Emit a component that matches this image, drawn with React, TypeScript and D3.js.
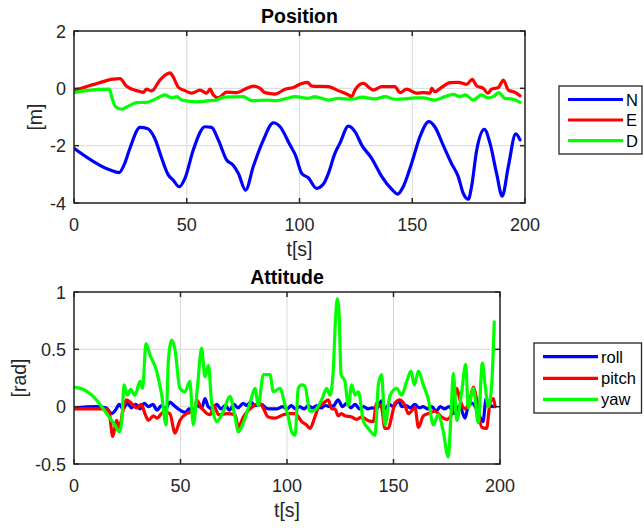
import React from "react";
import * as d3 from "d3";

type P = [number, number];

const posN: P[] = [[0,-2.09],[16,-2.85],[20,-2.94],[22.5,-2.62],[24.8,-2.09],[29.3,-1.36],[32.5,-1.4],[35.8,-1.74],[38.9,-2.44],[41.8,-3.02],[44,-3.2],[46.7,-3.43],[49.2,-3.14],[52.9,-2.15],[58.1,-1.34],[61,-1.36],[64,-1.8],[67.7,-2.5],[70.6,-2.68],[72.9,-2.97],[76.1,-3.55],[79.5,-2.73],[84,-1.8],[88.4,-1.2],[91.4,-1.34],[95.8,-1.98],[98.2,-2.33],[101,-2.97],[103.9,-3.12],[107.6,-3.49],[110.6,-3.34],[112.8,-2.97],[115.7,-2.27],[117.9,-1.92],[121.7,-1.32],[124.6,-1.51],[127.6,-1.98],[132,-2.44],[136.5,-3.08],[140.9,-3.52],[143.6,-3.69],[146,-3.43],[149.7,-2.62],[153.4,-1.69],[157.4,-1.16],[160,-1.34],[163.7,-1.98],[167.4,-2.62],[170.4,-3.08],[172.6,-3.66],[174.9,-3.87],[176.3,-3.43],[178.6,-2.15],[182,-1.43],[184.5,-1.92],[187.4,-2.97],[189.9,-3.76],[192.6,-2.73],[195.9,-1.59],[197.8,-1.8]];

const posE: P[] = [[0,-0.08],[5.6,0.06],[11.5,0.2],[17.4,0.32],[20.4,0.34],[23.2,0.08],[27.8,-0.08],[30.7,-0.14],[32.2,-0.03],[34.4,-0.09],[38.1,0.29],[42.6,0.54],[44,0.4],[46.3,0.03],[49.2,-0.08],[52.2,-0.17],[55.9,-0.06],[58.8,-0.17],[60.3,-0.03],[61.8,-0.23],[64,-0.33],[67.7,-0.13],[72.2,-0.15],[76.6,0],[79.5,0.08],[82.5,0],[84.7,-0.15],[89.1,-0.2],[93.6,-0.03],[97.3,0.03],[101,0.17],[103.6,0.21],[105.4,0.08],[112.8,0.06],[117.2,-0.08],[121.7,-0.23],[123.1,-0.29],[124.6,-0.06],[128.3,0.17],[131.3,0],[132.7,-0.06],[136.5,0.06],[142.3,0.06],[144.6,-0.15],[147.5,-0.03],[151.9,-0.17],[154.9,-0.15],[157.9,-0.17],[158.6,0],[160,-0.12],[163,0.03],[166.7,0.2],[170.4,0.21],[174.1,0.14],[176.6,0.31],[178.6,0.08],[181.5,0],[183.5,-0.17],[185.2,-0.03],[188.2,0.03],[190.4,0.29],[192.6,-0.06],[195.6,-0.14],[197.8,-0.26]];

const posD: P[] = [[0,-0.15],[5.6,-0.08],[15.7,-0.03],[16.7,-0.29],[18.2,-0.62],[21.1,-0.73],[24.1,-0.62],[27.8,-0.5],[32.2,-0.49],[36.7,-0.35],[40.4,-0.23],[43.3,-0.33],[45.6,-0.29],[47.8,-0.41],[54.4,-0.47],[58.8,-0.44],[63.3,-0.41],[66.2,-0.31],[75.1,-0.29],[78.8,-0.43],[85.4,-0.41],[89.9,-0.43],[94.3,-0.35],[98.2,-0.29],[103.9,-0.35],[106.8,-0.29],[112.8,-0.41],[117.2,-0.35],[123.1,-0.38],[127.6,-0.31],[133.5,-0.37],[137.9,-0.29],[142.3,-0.38],[146.8,-0.37],[151.2,-0.33],[154.9,-0.33],[160,-0.41],[164.5,-0.29],[168.2,-0.21],[171.1,-0.29],[173.7,-0.23],[177,-0.41],[180.7,-0.23],[183.7,-0.33],[185.9,-0.29],[188.4,-0.15],[191.1,-0.35],[194,-0.37],[197.8,-0.49]];

const attRoll: P[] = [[0,-0.01],[10,0],[15,-0.01],[17.8,-0.06],[19.5,-0.03],[21.3,0.02],[23,-0.02],[25,0.03],[27,-0.01],[29,0.02],[31,-0.02],[33,0.03],[35,0],[37,0.02],[39,-0.03],[41,0.01],[43,-0.02],[45,0.04],[47,0.01],[49,-0.02],[52.3,-0.05],[54,-0.02],[56,-0.03],[58,0.01],[60,-0.01],[61.5,0.07],[63,0],[65,-0.02],[67,0.02],[69,-0.02],[71,0.01],[73,-0.03],[75,0.02],[77,-0.01],[79.5,0.03],[81,0.01],[83,0.04],[85,0.01],[88,0.02],[90,-0.01],[92,-0.02],[95,-0.02],[98,0],[100,-0.02],[102,0.01],[104,-0.02],[106,0],[108,-0.02],[110,0.01],[112,-0.01],[114,0.01],[116,-0.01],[118,0.01],[120,0],[122,0.01],[124,0.06],[126,0],[128,0.03],[130,-0.01],[132,0.02],[134,-0.02],[136,0],[138,-0.02],[140,-0.01],[142,-0.02],[144.4,0.05],[146,-0.02],[148,0.02],[150,0],[152.3,0.05],[154,0],[156,0.01],[158,-0.01],[160,0.02],[162,-0.01],[164,0],[166,-0.02],[168,0],[170,-0.04],[172,0],[174,-0.02],[176,0],[178.9,-0.06],[181,0.01],[183.6,-0.1],[185,0],[187,0.03],[189,-0.02],[192,-0.13],[193.5,0.07],[195,0.01],[197,0]];

const attPitch: P[] = [[0,-0.02],[15,-0.02],[16.5,-0.05],[18.2,-0.26],[20,-0.12],[21.3,-0.19],[22.8,-0.05],[24.7,0.06],[26.9,0.03],[29.4,-0.01],[31.6,0.02],[33.3,-0.06],[34.9,-0.12],[37.3,-0.08],[38.9,-0.1],[41.9,-0.05],[45,-0.06],[47.4,-0.23],[49.7,-0.12],[52.8,-0.06],[56.7,-0.04],[57.6,0.06],[59.5,0],[62.5,-0.06],[64,-0.07],[65.6,0.01],[67.9,-0.07],[71.8,-0.06],[75.6,-0.07],[77.2,-0.18],[79.5,-0.09],[82.6,-0.02],[87.3,0.03],[88.8,-0.01],[91.2,-0.09],[94.3,-0.1],[98.2,-0.07],[101.3,-0.06],[103.8,-0.06],[106.9,-0.13],[109.2,-0.16],[110.8,-0.19],[113.1,-0.09],[114.7,-0.01],[117.1,0.03],[119.4,0.06],[121,-0.02],[122.5,-0.02],[124.1,-0.08],[125.6,-0.06],[127.2,-0.08],[130.4,-0.09],[132.7,-0.11],[135.1,-0.09],[138,-0.12],[140.5,-0.13],[142.1,0.03],[144.4,-0.01],[146,-0.19],[147.6,-0.19],[149.1,-0.09],[150.7,0.03],[153,0.06],[155.4,0.01],[157,-0.06],[160.1,-0.01],[161.7,-0.18],[164,-0.08],[166.4,-0.06],[169.5,-0.04],[172.6,-0.09],[175,-0.11],[177.3,-0.07],[179.7,0.16],[181.2,0.06],[183.6,-0.02],[186,0.07],[187.5,0.17],[189,0.07],[191.4,-0.18],[193.7,-0.19],[195.3,0.03],[196.9,0.07],[197.7,0]];

const attYaw: P[] = [[0,0.17],[4.4,0.15],[9,0.09],[13,0],[16.1,-0.08],[19.2,-0.16],[21.3,-0.22],[22.4,-0.13],[23.5,0.19],[25,0.1],[26.6,0.15],[28.6,0.1],[31,0.22],[32.2,0.16],[33.8,0.55],[35.7,0.45],[38.8,0.31],[41.2,0.1],[43.2,-0.16],[44.3,0.4],[45.9,0.58],[47.4,0.5],[49.7,0.16],[52.1,0.13],[54.4,0.22],[56,-0.16],[57.9,0.16],[59.9,0.51],[61.5,0.26],[63.1,0.36],[64.6,0.04],[67,-0.13],[70.1,-0.04],[73.2,0.09],[75.6,-0.09],[77.2,-0.22],[79.5,-0.14],[82.6,0.03],[85,0.16],[86.5,0.01],[88.9,0.28],[92,0.28],[93.6,0.13],[96.7,0.16],[99,0.02],[100.6,-0.09],[102.2,-0.22],[103.8,-0.25],[105.3,0.16],[106.9,0.19],[108.4,0.18],[110.8,-0.04],[113.1,-0.03],[116.3,0.06],[118.6,0.16],[120.2,0.1],[121.7,0.31],[122.8,0.77],[123.6,0.94],[124.4,0.83],[125.4,0.28],[127.2,0.22],[128.8,0.01],[130.4,0.19],[131.9,0.1],[133.5,0.13],[135.9,-0.13],[138.2,-0.19],[141.3,-0.25],[142.9,0.19],[144.4,0.28],[146,-0.16],[148.4,0.1],[151.5,0.16],[153.8,0.1],[156.2,0.22],[158.2,0.31],[159.8,0.19],[161.7,0.31],[164,0.19],[166.4,0.06],[168.7,-0.16],[171,-0.07],[173.4,-0.22],[175.7,-0.44],[177,-0.07],[178.1,0.29],[179.7,-0.12],[182,0.13],[183.9,0.37],[185.1,-0.01],[187.5,0.16],[189.8,-0.14],[191.7,0.38],[193,0.19],[194.5,0],[196.1,0.19],[197.3,0.74]];

const posNames = ["N", "E", "D"];
const attNames = ["roll", "pitch", "yaw"];
const colors = ["#0000ff", "#ff0000", "#00ff00"];
const xTicks = [0, 50, 100, 150, 200];
const posYTicks = [-4, -2, 0, 2];
const attYTicks = [-0.5, 0, 0.5, 1];

const FONT = "'Liberation Sans', Arial, Helvetica, sans-serif";
const AX = "#262626";

interface PanelProps {
  left: number; right: number; top: number; bottom: number;
  yDomain: [number, number]; yTicks: number[]; yFmt: (v: number) => string;
  series: P[][]; names: string[]; title: string; ylabel: string; ylabelX: number;
  legend: { x: number; y: number; w: number; h: number; lineX0: number; lineX1: number; textX: number; rows: number[] };
}

function Panel(p: PanelProps) {
  const x = d3.scaleLinear().domain([0, 200]).range([p.left, p.right]);
  const y = d3.scaleLinear().domain(p.yDomain).range([p.bottom, p.top]);
  const line = d3.line<P>().x(d => x(d[0])).y(d => y(d[1])).curve(d3.curveMonotoneX);
  const tl = 5;
  const cx = (p.left + p.right) / 2;
  const cy = (p.top + p.bottom) / 2;
  return (
    <g>
      <rect x={p.left} y={p.top} width={p.right - p.left} height={p.bottom - p.top} fill="#fff" />
      {xTicks.map(t => (
        <line key={"gx" + t} x1={x(t)} x2={x(t)} y1={p.top} y2={p.bottom} stroke="#d9d9d9" strokeWidth={1} />
      ))}
      {p.yTicks.map(t => (
        <line key={"gy" + t} x1={p.left} x2={p.right} y1={y(t)} y2={y(t)} stroke="#d9d9d9" strokeWidth={1} />
      ))}
      <defs>
        <clipPath id={"clip" + p.title}>
          <rect x={p.left} y={p.top - 2} width={p.right - p.left} height={p.bottom - p.top + 4} />
        </clipPath>
      </defs>
      <g clipPath={`url(#clip${p.title})`}>
        {p.series.map((s, i) => (
          <path key={i} d={line(s) || ""} fill="none" stroke={colors[i]} strokeWidth={3.2} strokeLinejoin="round" strokeLinecap="round" />
        ))}
      </g>
      <rect x={p.left} y={p.top} width={p.right - p.left} height={p.bottom - p.top} fill="none" stroke={AX} strokeWidth={1.5} />
      {xTicks.map(t => (
        <g key={"tx" + t}>
          <line x1={x(t)} x2={x(t)} y1={p.bottom} y2={p.bottom - tl} stroke={AX} strokeWidth={1.5} />
          <line x1={x(t)} x2={x(t)} y1={p.top} y2={p.top + tl} stroke={AX} strokeWidth={1.5} />
          <text x={x(t)} y={p.bottom + 28} textAnchor="middle" fontSize={18} fill={AX} fontFamily={FONT}>{t}</text>
        </g>
      ))}
      {p.yTicks.map(t => (
        <g key={"ty" + t}>
          <line x1={p.left} x2={p.left + tl} y1={y(t)} y2={y(t)} stroke={AX} strokeWidth={1.5} />
          <line x1={p.right} x2={p.right - tl} y1={y(t)} y2={y(t)} stroke={AX} strokeWidth={1.5} />
          <text x={p.left - 8} y={y(t) + 6.5} textAnchor="end" fontSize={18} fill={AX} fontFamily={FONT}>{p.yFmt(t)}</text>
        </g>
      ))}
      <text x={cx} y={p.top - 8.5} textAnchor="middle" fontSize={19.5} fontWeight="bold" fill="#000" fontFamily={FONT}>{p.title}</text>
      <text x={cx} y={p.bottom + 53} textAnchor="middle" fontSize={19.5} fill={AX} fontFamily={FONT}>t[s]</text>
      <text transform={`translate(${p.ylabelX},${cy}) rotate(-90)`} textAnchor="middle" dominantBaseline="central" fontSize={19.5} fill={AX} fontFamily={FONT}>{p.ylabel}</text>
      <rect x={p.legend.x} y={p.legend.y} width={p.legend.w} height={p.legend.h} fill="#fff" stroke={AX} strokeWidth={1.3} />
      {p.names.map((n, i) => (
        <g key={n}>
          <line x1={p.legend.lineX0} x2={p.legend.lineX1} y1={p.legend.rows[i]} y2={p.legend.rows[i]} stroke={colors[i]} strokeWidth={3.2} />
          <text x={p.legend.textX} y={p.legend.rows[i] + 6} fontSize={16.5} fill="#000" fontFamily={FONT}>{n}</text>
        </g>
      ))}
    </g>
  );
}

export default function App() {
  const fmtPos = (v: number) => String(v);
  const fmtAtt = (v: number) => String(v);
  return (
    <svg width={644} height={531} style={{ position: "absolute", left: 0, top: 0, background: "#fff" }}>
      <rect x={0} y={0} width={644} height={531} fill="#fff" />
      <Panel left={74} right={525} top={31} bottom={203} yDomain={[-4, 2]} yTicks={posYTicks} yFmt={fmtPos}
        series={[posN, posE, posD]} names={posNames} title="Position" ylabel="[m]" ylabelX={35}
        legend={{ x: 559, y: 86, w: 83, h: 68, lineX0: 568, lineX1: 623, textX: 626, rows: [99.5, 120, 140.7] }} />
      <Panel left={74} right={500} top={292} bottom={464} yDomain={[-0.5, 1]} yTicks={attYTicks} yFmt={fmtAtt}
        series={[attRoll, attPitch, attYaw]} names={attNames} title="Attitude" ylabel="[rad]" ylabelX={19}
        legend={{ x: 534, y: 343, w: 107.5, h: 70, lineX0: 543, lineX1: 598, textX: 601, rows: [356.7, 378.3, 399.3] }} />
    </svg>
  );
}
